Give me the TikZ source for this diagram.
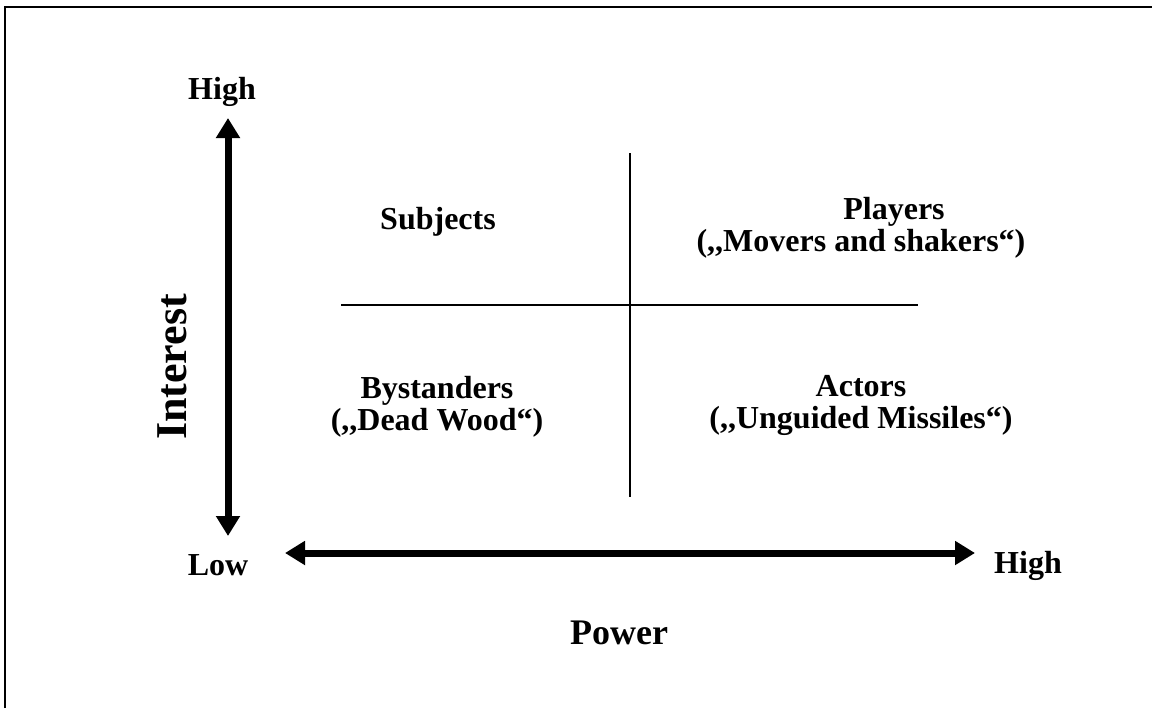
\documentclass[tikz,border=0pt]{standalone}
\usepackage{fontspec}
\setmainfont{Liberation Serif}
\usetikzlibrary{arrows.meta}

\begin{document}
\begin{tikzpicture}[x=0.5pt, y=-0.5pt,
    lbl/.style={font=\fontsize{16}{16}\selectfont\bfseries, align=center},
    axislbl/.style={font=\fontsize{18}{20}\selectfont\bfseries},
    axis/.style={{Triangle[width=11.5pt,length=10pt]}-{Triangle[width=11.5pt,length=10pt]}, line width=3.5pt},
    divider/.style={line width=1pt}
  ]
    \useasboundingbox (0,0) rectangle (1152,708);
    % frame, cut by the page edge
    \draw[line width=1.2pt] (5,708) -- (5,7) -- (1152,7);

    \coordinate (ytop) at (228,118);
    \coordinate (ybot) at (228,536);
    \coordinate (xleft) at (285,553);
    \coordinate (xright) at (975,553);

    \node[lbl] (hiY) at (222,92) {High};
    \node[lbl] (loY) at (218,565) {Low};
    \node[lbl] (hiX) at (1028,566) {High};
    \node[axislbl] (power) at (619,633) {Power};
    \node[axislbl, font=\fontsize{22}{24}\selectfont\bfseries, rotate=90] (interest) at (172,367) {Interest};

    \draw[axis] (ybot) -- (ytop);
    \draw[axis] (xleft) -- (xright);

    % quadrants
    \draw[divider] (630,153) -- (630,497);
    \draw[divider] (341,305) -- (918,305);

    \node[lbl] (subj) at (438,222) {Subjects};
    \node[lbl] (play) at (861,228) {\hspace*{33pt}Players\\(,{},Movers and shakers“)};
    \node[lbl] (byst) at (437,407) {Bystanders\\(,{},Dead Wood“)};
    \node[lbl] (act) at (861,405) {Actors\\(,{},Unguided Missiles“)};
\end{tikzpicture}
\end{document}
